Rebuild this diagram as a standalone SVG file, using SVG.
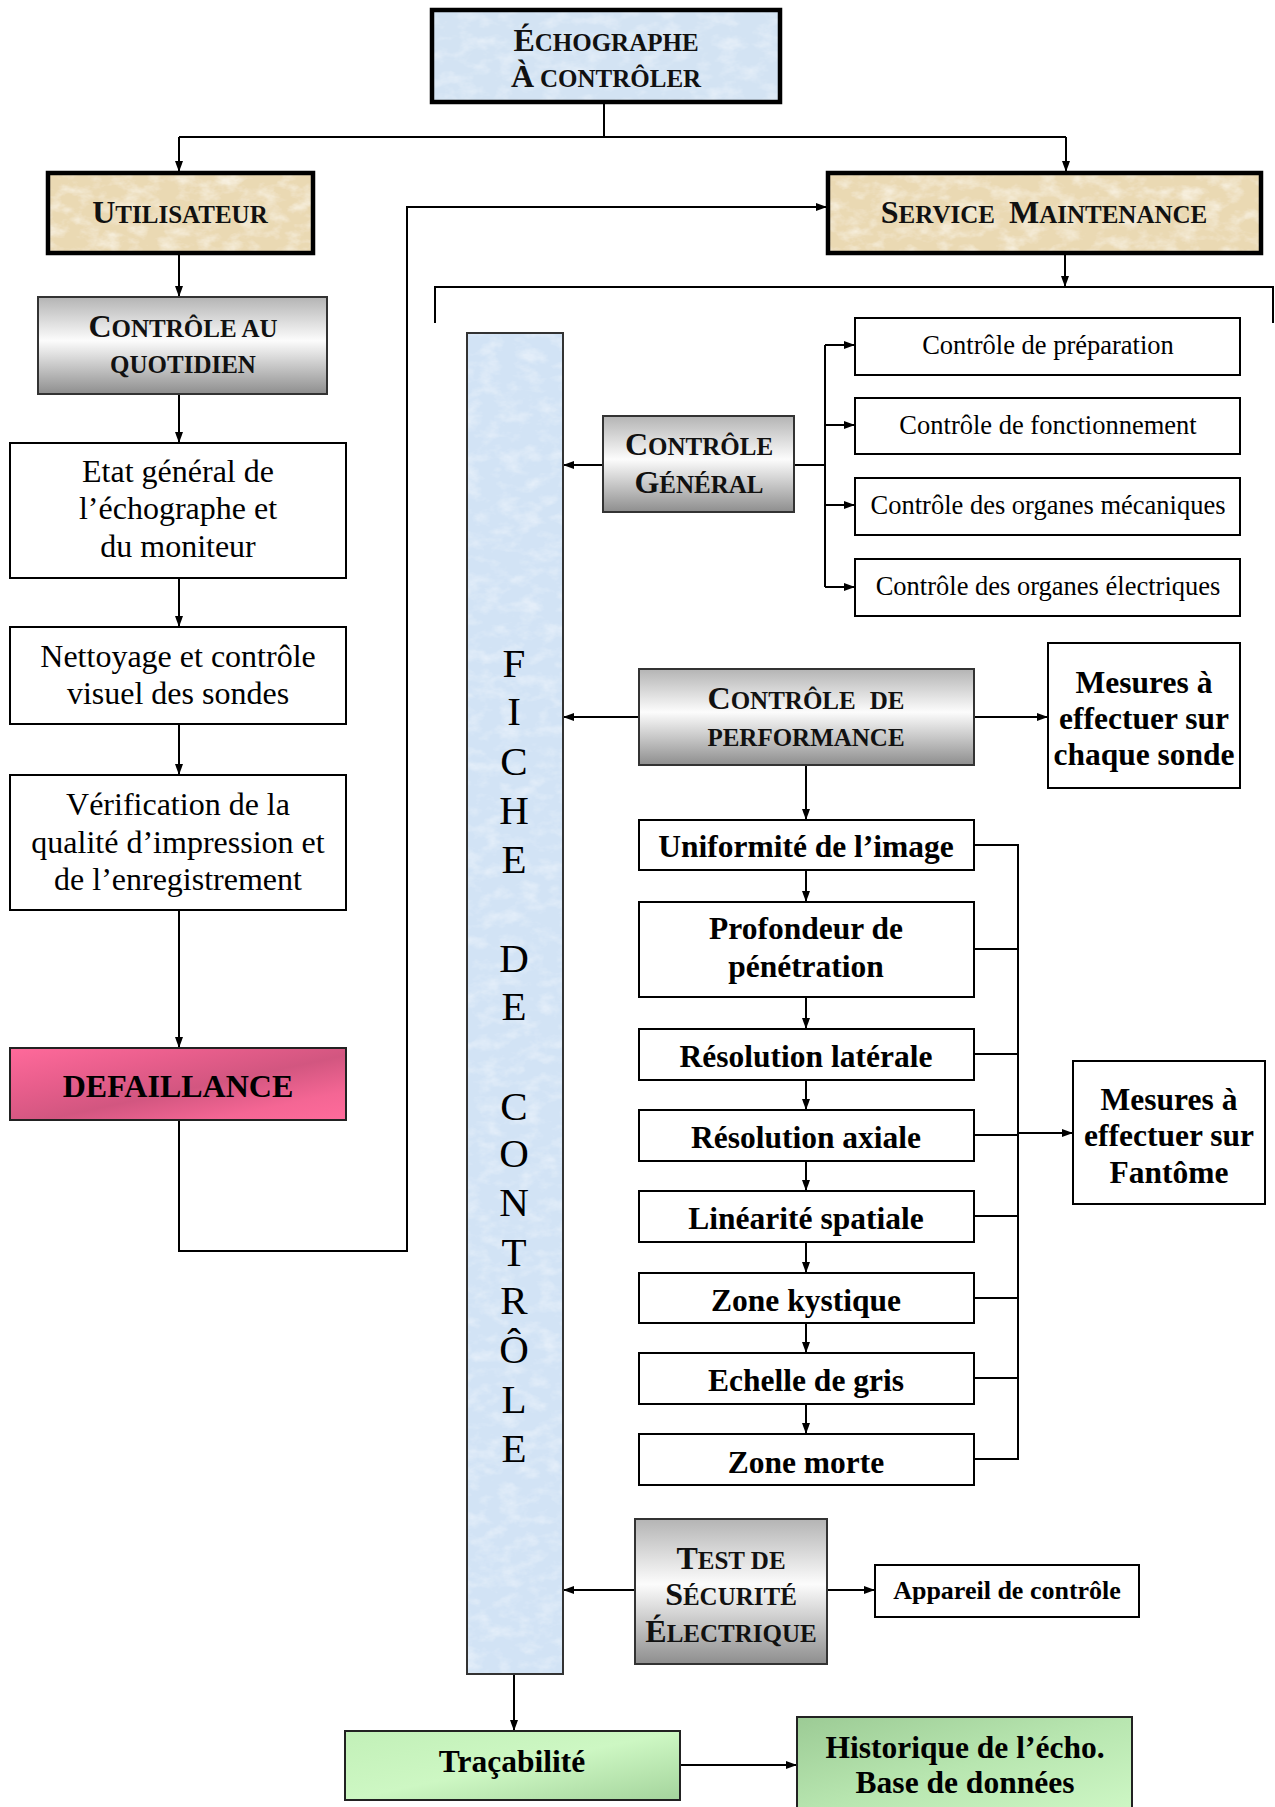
<svg xmlns="http://www.w3.org/2000/svg" width="1275" height="1807" viewBox="0 0 1275 1807">
  <defs>
    <style>
      .serif { font-family: "Liberation Serif", "Times New Roman", serif; fill: #000; }
      .hd { font-family: "Liberation Serif", "Times New Roman", serif; font-weight: bold; text-anchor: middle; fill: #111; }
      .big { font-size: 32px; }
      .sm { font-size: 25px; }
      .reg32 { font-size: 32px; text-anchor: middle; }
      .reg26 { font-size: 26.5px; text-anchor: middle; }
      .b31 { font-size: 31.5px; font-weight: bold; text-anchor: middle; }
      .b26 { font-size: 26px; font-weight: bold; text-anchor: middle; }
      .letter { font-size: 41px; text-anchor: middle; }
      .box { fill: #fff; stroke: #000; stroke-width: 2; }
      .thick { fill: none; stroke: #000; stroke-width: 4.5; }
      .wire { fill: none; stroke: #000; stroke-width: 2; }
      .arrow { fill: none; stroke: #000; stroke-width: 2; marker-end: url(#ah); }
    </style>
    <marker id="ah" markerWidth="11" markerHeight="10" refX="10" refY="5" orient="auto" markerUnits="userSpaceOnUse">
      <path d="M0,1 L11,5 L0,9 z" fill="#000"/>
    </marker>
    <!-- fine mottled paper look for the blue and tan fills -->
    <filter id="grain" x="0" y="0" width="1" height="1">
      <feTurbulence type="fractalNoise" baseFrequency="0.05 0.08" numOctaves="4" seed="7" result="noise"/>
      <feColorMatrix in="noise" type="matrix" values="0 0 0 0 0.95  0 0 0 0 0.97  0 0 0 0 1  0 0 0 -1.0 0.55" result="spots"/>
      <feComposite in="spots" in2="SourceGraphic" operator="atop"/>
    </filter>
    <filter id="grainTan" x="0" y="0" width="1" height="1">
      <feTurbulence type="fractalNoise" baseFrequency="0.05 0.08" numOctaves="4" seed="3" result="noise"/>
      <feColorMatrix in="noise" type="matrix" values="0 0 0 0 0.97  0 0 0 0 0.93  0 0 0 0 0.84  0 0 0 -1.6 0.9" result="spots"/>
      <feComposite in="spots" in2="SourceGraphic" operator="atop"/>
    </filter>
    <linearGradient id="gray" x1="0" y1="0" x2="0" y2="1">
      <stop offset="0" stop-color="#b4b4b4"/>
      <stop offset="0.45" stop-color="#fcfcfc"/>
      <stop offset="1" stop-color="#8e8e8e"/>
    </linearGradient>
    <linearGradient id="pink" x1="0" y1="0" x2="1" y2="1">
      <stop offset="0" stop-color="#ff6a9b"/>
      <stop offset="0.3" stop-color="#e85e8c"/>
      <stop offset="0.55" stop-color="#d25680"/>
      <stop offset="0.8" stop-color="#f46694"/>
      <stop offset="1" stop-color="#ff6b9b"/>
    </linearGradient>
    <linearGradient id="greenA" x1="0" y1="0" x2="1" y2="1">
      <stop offset="0" stop-color="#c2f0b8"/>
      <stop offset="0.5" stop-color="#cdf7c3"/>
      <stop offset="1" stop-color="#a4d49c"/>
    </linearGradient>
    <linearGradient id="greenB" x1="0" y1="0" x2="1" y2="1">
      <stop offset="0" stop-color="#9ccb95"/>
      <stop offset="0.5" stop-color="#b8e6b0"/>
      <stop offset="1" stop-color="#cff8c6"/>
    </linearGradient>
  </defs>

  <rect width="1275" height="1807" fill="#fff"/>

  <!-- connectors -->
  <g id="connectors">
    <path class="wire" d="M604,102 V137 M179,137 H1066"/>
    <path class="arrow" d="M179,137 V171"/>
    <path class="arrow" d="M1066,137 V171"/>
    <path class="arrow" d="M179,254 V296"/>
    <path class="arrow" d="M179,395 V442"/>
    <path class="arrow" d="M179,579 V626"/>
    <path class="arrow" d="M179,725 V774"/>
    <path class="arrow" d="M179,911 V1047"/>
    <path class="arrow" d="M179,1121 V1251 H407 V207 H826"/>
    <path class="arrow" d="M1065,254 V286"/>
    <path class="wire" d="M435,323 V287 H1273 V323"/>
    <path class="arrow" d="M603,465 H564"/>
    <path class="wire" d="M795,465 H825 M825,345 V587"/>
    <path class="arrow" d="M825,345 H854"/>
    <path class="arrow" d="M825,425 H854"/>
    <path class="arrow" d="M825,505 H854"/>
    <path class="arrow" d="M825,587 H854"/>
    <path class="arrow" d="M638,717 H564"/>
    <path class="arrow" d="M975,717 H1047"/>
    <path class="arrow" d="M806,766 V819"/>
    <path class="arrow" d="M806,871 V901"/>
    <path class="arrow" d="M806,998 V1028"/>
    <path class="arrow" d="M806,1081 V1109"/>
    <path class="arrow" d="M806,1162 V1190"/>
    <path class="arrow" d="M806,1243 V1272"/>
    <path class="arrow" d="M806,1324 V1352"/>
    <path class="arrow" d="M806,1405 V1433"/>
    <path class="wire" d="M975,845 H1018 M975,949 H1018 M975,1054 H1018 M975,1135 H1018 M975,1216 H1018 M975,1298 H1018 M975,1378 H1018 M975,1459 H1018 M1018,844 V1460"/>
    <path class="arrow" d="M1018,1133 H1072"/>
    <path class="arrow" d="M634,1590 H564"/>
    <path class="arrow" d="M828,1590 H874"/>
    <path class="arrow" d="M514,1675 V1730"/>
    <path class="arrow" d="M681,1765 H796"/>
  </g>

  <!-- top node -->
  <g id="echographe">
    <rect x="432" y="10" width="348" height="92" fill="#d3e3f3" filter="url(#grain)"/>
    <rect class="thick" x="432" y="10" width="348" height="92"/>
    <text class="hd" x="606" y="51"><tspan class="big">É</tspan><tspan class="sm">CHOGRAPHE</tspan></text>
    <text class="hd" x="606" y="87"><tspan class="big">À</tspan><tspan class="sm" dx="6">CONTRÔLER</tspan></text>
  </g>

  <g id="utilisateur">
    <rect x="48" y="173" width="265" height="80" fill="#ead9b3" filter="url(#grainTan)"/>
    <rect class="thick" x="48" y="173" width="265" height="80"/>
    <text class="hd" x="180" y="223"><tspan class="big">U</tspan><tspan class="sm">TILISATEUR</tspan></text>
  </g>

  <g id="service-maintenance">
    <rect x="828" y="173" width="433" height="80" fill="#ead9b3" filter="url(#grainTan)"/>
    <rect class="thick" x="828" y="173" width="433" height="80"/>
    <text class="hd" x="1044" y="223"><tspan class="big">S</tspan><tspan class="sm">ERVICE</tspan><tspan class="big" dx="14">M</tspan><tspan class="sm">AINTENANCE</tspan></text>
  </g>

  <!-- daily checks column -->
  <g id="controle-quotidien">
    <rect x="38" y="297" width="289" height="97" fill="url(#gray)" stroke="#333" stroke-width="2"/>
    <text class="hd" x="183" y="337"><tspan class="big">C</tspan><tspan class="sm">ONTRÔLE AU</tspan></text>
    <text class="hd sm" x="183" y="373">QUOTIDIEN</text>
  </g>

  <g id="etat-general">
    <rect class="box" x="10" y="443" width="336" height="135"/>
    <text class="serif reg32" x="178" y="482">Etat général de</text>
    <text class="serif reg32" x="178" y="519">l’échographe et</text>
    <text class="serif reg32" x="178" y="557">du moniteur</text>
  </g>

  <g id="nettoyage">
    <rect class="box" x="10" y="627" width="336" height="97"/>
    <text class="serif reg32" x="178" y="667">Nettoyage et contrôle</text>
    <text class="serif reg32" x="178" y="704">visuel des sondes</text>
  </g>

  <g id="verification">
    <rect class="box" x="10" y="775" width="336" height="135"/>
    <text class="serif reg32" x="178" y="815">Vérification de la</text>
    <text class="serif reg32" x="178" y="853">qualité d’impression et</text>
    <text class="serif reg32" x="178" y="890">de l’enregistrement</text>
  </g>

  <g id="defaillance">
    <rect x="10" y="1048" width="336" height="72" fill="url(#pink)" stroke="#222" stroke-width="2"/>
    <text class="serif b31" x="178" y="1097" style="font-size:32px">DEFAILLANCE</text>
  </g>

  <!-- vertical control sheet -->
  <g id="fiche-de-controle">
    <rect x="467" y="333" width="96" height="1341" fill="#d2e3f5" filter="url(#grain)"/>
    <rect x="467" y="333" width="96" height="1341" fill="none" stroke="#333" stroke-width="2"/>
    <g class="serif letter">
      <text x="514" y="677">F</text>
      <text x="514" y="725">I</text>
      <text x="514" y="775">C</text>
      <text x="514" y="824">H</text>
      <text x="514" y="873">E</text>
      <text x="514" y="972">D</text>
      <text x="514" y="1020">E</text>
      <text x="514" y="1120">C</text>
      <text x="514" y="1167">O</text>
      <text x="514" y="1216">N</text>
      <text x="514" y="1266">T</text>
      <text x="514" y="1314">R</text>
      <text x="514" y="1363">Ô</text>
      <text x="514" y="1413">L</text>
      <text x="514" y="1462">E</text>
    </g>
  </g>

  <!-- general checks -->
  <g id="controle-general">
    <rect x="603" y="416" width="191" height="96" fill="url(#gray)" stroke="#333" stroke-width="2"/>
    <text class="hd" x="699" y="455"><tspan class="big">C</tspan><tspan class="sm">ONTRÔLE</tspan></text>
    <text class="hd" x="699" y="493"><tspan class="big">G</tspan><tspan class="sm">ÉNÉRAL</tspan></text>
  </g>

  <g id="controle-preparation">
    <rect class="box" x="855" y="318" width="385" height="57"/>
    <text class="serif reg26" x="1048" y="354">Contrôle de préparation</text>
  </g>
  <g id="controle-fonctionnement">
    <rect class="box" x="855" y="398" width="385" height="56"/>
    <text class="serif reg26" x="1048" y="434">Contrôle de fonctionnement</text>
  </g>
  <g id="controle-mecaniques">
    <rect class="box" x="855" y="478" width="385" height="57"/>
    <text class="serif reg26" x="1048" y="514">Contrôle des organes mécaniques</text>
  </g>
  <g id="controle-electriques">
    <rect class="box" x="855" y="559" width="385" height="57"/>
    <text class="serif reg26" x="1048" y="595">Contrôle des organes électriques</text>
  </g>

  <!-- performance checks -->
  <g id="controle-performance">
    <rect x="639" y="669" width="335" height="96" fill="url(#gray)" stroke="#333" stroke-width="2"/>
    <text class="hd" x="806" y="709"><tspan class="big">C</tspan><tspan class="sm">ONTRÔLE</tspan><tspan class="sm" dx="14">DE</tspan></text>
    <text class="hd sm" x="806" y="746">PERFORMANCE</text>
  </g>

  <g id="mesures-sonde">
    <rect class="box" x="1048" y="643" width="192" height="145"/>
    <text class="serif b31" x="1144" y="693">Mesures à</text>
    <text class="serif b31" x="1144" y="729">effectuer sur</text>
    <text class="serif b31" x="1144" y="765">chaque sonde</text>
  </g>

  <g id="uniformite">
    <rect class="box" x="639" y="820" width="335" height="50"/>
    <text class="serif b31" x="806" y="857">Uniformité de l’image</text>
  </g>
  <g id="profondeur">
    <rect class="box" x="639" y="902" width="335" height="95"/>
    <text class="serif b31" x="806" y="939">Profondeur de</text>
    <text class="serif b31" x="806" y="977">pénétration</text>
  </g>
  <g id="resolution-laterale">
    <rect class="box" x="639" y="1029" width="335" height="51"/>
    <text class="serif b31" x="806" y="1067">Résolution latérale</text>
  </g>
  <g id="resolution-axiale">
    <rect class="box" x="639" y="1110" width="335" height="51"/>
    <text class="serif b31" x="806" y="1148">Résolution axiale</text>
  </g>
  <g id="linearite">
    <rect class="box" x="639" y="1191" width="335" height="51"/>
    <text class="serif b31" x="806" y="1229">Linéarité spatiale</text>
  </g>
  <g id="zone-kystique">
    <rect class="box" x="639" y="1273" width="335" height="50"/>
    <text class="serif b31" x="806" y="1311">Zone kystique</text>
  </g>
  <g id="echelle-gris">
    <rect class="box" x="639" y="1353" width="335" height="51"/>
    <text class="serif b31" x="806" y="1391">Echelle de gris</text>
  </g>
  <g id="zone-morte">
    <rect class="box" x="639" y="1434" width="335" height="51"/>
    <text class="serif b31" x="806" y="1473">Zone morte</text>
  </g>

  <g id="mesures-fantome">
    <rect class="box" x="1073" y="1061" width="192" height="143"/>
    <text class="serif b31" x="1169" y="1110">Mesures à</text>
    <text class="serif b31" x="1169" y="1146">effectuer sur</text>
    <text class="serif b31" x="1169" y="1183">Fantôme</text>
  </g>

  <!-- electrical safety -->
  <g id="test-securite">
    <rect x="635" y="1519" width="192" height="145" fill="url(#gray)" stroke="#333" stroke-width="2"/>
    <text class="hd" x="731" y="1569"><tspan class="big">T</tspan><tspan class="sm">EST DE</tspan></text>
    <text class="hd" x="731" y="1605"><tspan class="big">S</tspan><tspan class="sm">ÉCURITÉ</tspan></text>
    <text class="hd" x="731" y="1642"><tspan class="big">É</tspan><tspan class="sm">LECTRIQUE</tspan></text>
  </g>

  <g id="appareil">
    <rect class="box" x="875" y="1565" width="264" height="52"/>
    <text class="serif b26" x="1007" y="1599">Appareil de contrôle</text>
  </g>

  <!-- traceability -->
  <g id="tracabilite">
    <rect x="345" y="1731" width="335" height="69" fill="url(#greenA)" stroke="#222" stroke-width="2"/>
    <text class="serif b31" x="512" y="1772">Traçabilité</text>
  </g>

  <g id="historique">
    <rect x="797" y="1717" width="335" height="100" fill="url(#greenB)" stroke="#222" stroke-width="2"/>
    <text class="serif b31" x="965" y="1758">Historique de l’écho.</text>
    <text class="serif b31" x="965" y="1793">Base de données</text>
  </g>
</svg>
